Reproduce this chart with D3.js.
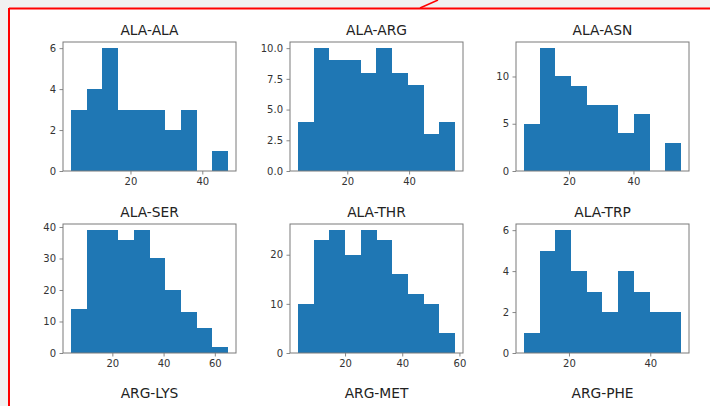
<!DOCTYPE html>
<html>
<head>
<meta charset="utf-8">
<script src="https://cdn.jsdelivr.net/npm/d3@7"></script>
<style>
  html, body { margin: 0; padding: 0; background: #f1f1f1; }
  svg { display: block; }
  text { font-family: "DejaVu Sans", sans-serif; }
</style>
</head>
<body>
<svg id="chart" width="710" height="406"></svg>
<script>
// ---- data ----
const titles   = ["ALA-ALA", "ALA-ARG", "ALA-ASN", "ALA-SER", "ALA-THR", "ALA-TRP"];
const binLo    = [3.4, 4.0, 6.0, 3.8, 3.5, 8.9];
const binHi    = [47.2, 54.9, 54.8, 65.2, 58.5, 47.6];
const counts   = [
  [3, 4, 6, 3, 3, 3, 2, 3, 0, 1],
  [4, 10, 9, 9, 8, 10, 8, 7, 3, 4],
  [5, 13, 10, 9, 7, 7, 4, 6, 0, 3],
  [14, 39, 39, 36, 39, 30, 20, 13, 8, 2],
  [10, 23, 25, 20, 25, 23, 16, 12, 10, 4],
  [1, 5, 6, 4, 3, 2, 4, 3, 2, 2]
];
const xTicks   = [[20, 40], [20, 40], [20, 40], [20, 40, 60], [20, 40, 60], [20, 40]];
const yTicks   = [[0, 2, 4, 6], [0, 2.5, 5, 7.5, 10], [0, 5, 10], [0, 10, 20, 30, 40], [0, 10, 20], [0, 2, 4, 6]];
const yFormats = ["d", ".1f", "d", "d", "d", "d"];
const row3Titles = ["ARG-LYS", "ARG-MET", "ARG-PHE"];

// ---- layout ----
const colLeft = [63, 290, 516];
const rowTop  = [42, 224, 406];
const axW = 173, axH = 129;
const barColor = "#1f77b4";
const spineColor = "#7a7a7a";
const textColor = "#333";

const svg = d3.select("#chart");

// inner white page with red frame
svg.append("rect").attr("x", 9).attr("y", 8).attr("width", 701).attr("height", 398).attr("fill", "#ffffff");
svg.append("line").attr("x1", 9).attr("x2", 710).attr("y1", 8.5).attr("y2", 8.5).attr("stroke", "#f00").attr("stroke-width", 2);
svg.append("line").attr("x1", 9).attr("x2", 9).attr("y1", 8).attr("y2", 406).attr("stroke", "#f00").attr("stroke-width", 2);
svg.append("line").attr("x1", 420).attr("x2", 438).attr("y1", 8).attr("y2", 0).attr("stroke", "#f00").attr("stroke-width", 1.5);

titles.forEach((t, i) => {
  const col = i % 3, row = Math.floor(i / 3);
  const g = svg.append("g").attr("transform", `translate(${colLeft[col]},${rowTop[row]})`);
  const lo = binLo[i], hi = binHi[i], w = hi - lo;
  const n = counts[i].length;
  const edges = d3.range(n + 1).map(k => lo + k * w / n);
  const x = d3.scaleLinear().domain([lo - 0.05 * w, hi + 0.05 * w]).range([0, axW]);
  const ymax = d3.max(counts[i]) * 1.05;
  const y = d3.scaleLinear().domain([0, ymax]).range([axH, 0]);

  g.selectAll("rect.bar").data(counts[i]).join("rect")
    .attr("class", "bar")
    .attr("x", (d, k) => Math.round(x(edges[k])))
    .attr("width", (d, k) => Math.round(x(edges[k + 1])) - Math.round(x(edges[k])))
    .attr("y", d => Math.round(y(d)))
    .attr("height", d => axH - Math.round(y(d)))
    .attr("fill", barColor)
    .attr("shape-rendering", "crispEdges");

  const xAxis = d3.axisBottom(x).tickValues(xTicks[i]).tickSize(3.5).tickPadding(3.5).tickFormat(d3.format("d"));
  const yAxis = d3.axisLeft(y).tickValues(yTicks[i]).tickSize(3.5).tickPadding(3.5).tickFormat(d3.format(yFormats[i]));

  const gx = g.append("g").attr("transform", `translate(0,${axH})`).call(xAxis);
  const gy = g.append("g").call(yAxis);
  [gx, gy].forEach(a => {
    a.select(".domain").remove();
    a.selectAll(".tick line").attr("stroke", spineColor).attr("stroke-width", 0.9);
    a.selectAll(".tick text").attr("fill", textColor).attr("font-size", 10).attr("font-family", "DejaVu Sans, sans-serif");
  });

  g.append("rect").attr("x", 0).attr("y", 0).attr("width", axW).attr("height", axH)
    .attr("fill", "none").attr("stroke", spineColor).attr("stroke-width", 1);

  g.append("text").attr("x", axW / 2).attr("y", -7).attr("text-anchor", "middle")
    .attr("font-size", 13.8).attr("fill", "#222").text(t);
});

row3Titles.forEach((t, col) => {
  svg.append("text").attr("x", colLeft[col] + axW / 2).attr("y", rowTop[2] - 8)
    .attr("text-anchor", "middle").attr("font-size", 13.8).attr("fill", "#222").text(t);
});
</script>
</body>
</html>
